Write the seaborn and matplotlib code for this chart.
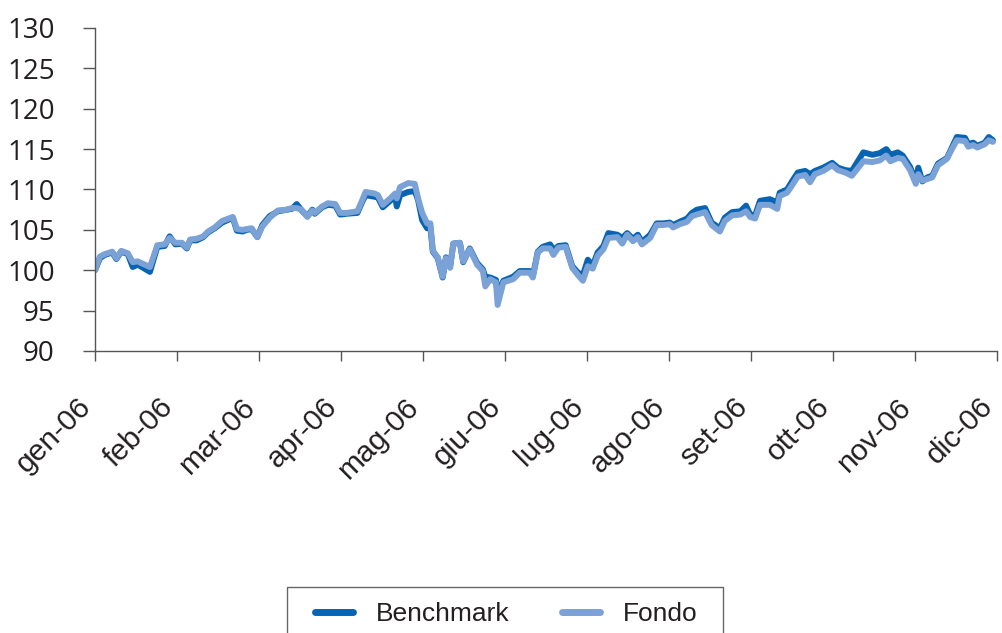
import numpy as np
import pandas as pd
import matplotlib
matplotlib.use("Agg")
import matplotlib.pyplot as plt
import matplotlib.transforms as mtransforms
from matplotlib.patches import Rectangle
import seaborn as sns

# mesi sull'asse x (posizione frazionaria nel 2006, 0 = gen-06)
mese = [0.00, 0.06, 0.12, 0.21, 0.26, 0.32, 0.40, 0.46, 0.52, 0.67, 0.76, 0.85,
        0.91, 0.98, 1.06, 1.12, 1.16, 1.24, 1.32, 1.38, 1.46, 1.55, 1.68, 1.73,
        1.80, 1.85, 1.91, 1.98, 2.04, 2.13, 2.23, 2.34, 2.40, 2.46, 2.52, 2.59,
        2.65, 2.68, 2.77, 2.84, 2.93, 2.99, 3.07, 3.20, 3.26, 3.30, 3.41, 3.45,
        3.51, 3.60, 3.66, 3.68, 3.72, 3.82, 3.90, 3.94, 3.99, 4.05, 4.09, 4.12,
        4.18, 4.24, 4.28, 4.33, 4.37, 4.45, 4.49, 4.57, 4.66, 4.73, 4.76, 4.82,
        4.89, 4.91, 4.98, 5.10, 5.18, 5.30, 5.34, 5.40, 5.46, 5.55, 5.59, 5.65,
        5.74, 5.82, 5.89, 5.95, 6.01, 6.07, 6.13, 6.20, 6.26, 6.37, 6.43, 6.49,
        6.56, 6.62, 6.67, 6.77, 6.85, 6.93, 7.01, 7.05, 7.13, 7.22, 7.28, 7.34,
        7.44, 7.52, 7.62, 7.68, 7.77, 7.87, 7.94, 7.99, 8.05, 8.11, 8.23, 8.32,
        8.35, 8.44, 8.50, 8.57, 8.66, 8.72, 8.78, 8.88, 8.99, 9.06, 9.15, 9.23,
        9.37, 9.48, 9.57, 9.65, 9.70, 9.79, 9.85, 9.94, 10.01, 10.04, 10.09, 10.15,
        10.21, 10.28, 10.39, 10.45, 10.51, 10.61, 10.65, 10.71, 10.76, 10.85, 10.90, 10.95]

benchmark = [100.0, 101.5, 101.9, 102.2, 101.4, 102.3, 102.0, 100.4, 100.7, 99.8, 102.9, 103.0,
             104.2, 103.2, 103.3, 102.7, 103.7, 103.7, 104.1, 104.7, 105.2, 105.9, 106.5, 104.9,
             104.8, 105.0, 105.1, 104.1, 105.6, 106.7, 107.3, 107.5, 107.6, 108.2, 107.4, 106.7,
             107.5, 107.0, 107.8, 108.1, 108.0, 106.9, 107.0, 107.1, 108.5, 109.3, 109.1, 109.0,
             107.8, 108.6, 109.1, 107.9, 109.3, 109.7, 109.8, 108.7, 106.2, 105.2, 105.3, 102.3,
             101.5, 99.1, 101.6, 100.4, 103.3, 103.4, 101.0, 102.7, 100.9, 100.1, 99.2, 99.1,
             98.8, 97.1, 98.7, 99.2, 99.9, 99.9, 99.3, 102.3, 102.9, 103.2, 102.5, 103.0,
             103.1, 100.5, 99.7, 99.4, 101.3, 100.6, 102.2, 103.0, 104.6, 104.4, 104.0, 104.6,
             103.9, 104.4, 103.5, 104.4, 105.8, 105.8, 105.9, 105.6, 106.0, 106.4, 107.1, 107.5,
             107.7, 105.9, 105.2, 106.5, 107.2, 107.3, 108.0, 106.9, 106.8, 108.6, 108.8, 108.4,
             109.6, 110.0, 111.0, 112.1, 112.3, 111.9, 112.3, 112.7, 113.3, 112.7, 112.4, 112.3,
             114.6, 114.3, 114.5, 115.0, 114.3, 114.6, 114.2, 112.8, 111.0, 112.7, 111.0, 111.5,
             111.7, 113.2, 113.9, 115.2, 116.5, 116.4, 115.6, 115.8, 115.4, 115.8, 116.5, 116.1]

fondo = [100.0, 101.7, 102.0, 102.3, 101.5, 102.4, 102.1, 101.0, 101.1, 100.4, 103.1, 103.2,
         104.0, 103.4, 103.4, 102.8, 103.8, 103.9, 104.2, 104.8, 105.3, 106.1, 106.6, 105.1,
         105.0, 105.1, 105.2, 104.1, 105.4, 106.5, 107.4, 107.5, 107.7, 107.7, 107.5, 106.6,
         107.4, 107.1, 107.9, 108.3, 108.2, 107.1, 107.1, 107.3, 108.7, 109.7, 109.5, 109.3,
         108.1, 108.9, 109.5, 108.9, 110.3, 110.8, 110.7, 108.9, 107.1, 105.8, 105.8, 102.4,
         101.6, 99.2, 101.5, 100.3, 103.3, 103.4, 101.1, 102.6, 100.7, 99.9, 98.0, 98.9,
         98.5, 95.7, 98.5, 98.9, 99.7, 99.7, 99.1, 102.2, 102.7, 102.7, 101.9, 102.8,
         102.9, 100.3, 99.4, 98.7, 100.5, 100.2, 101.8, 102.6, 104.0, 104.1, 103.3, 104.4,
         103.6, 104.1, 103.2, 104.0, 105.6, 105.6, 105.7, 105.3, 105.7, 106.0, 106.7, 106.9,
         107.2, 105.6, 104.8, 106.1, 106.8, 106.9, 107.3, 106.6, 106.4, 108.1, 108.1, 107.6,
         109.2, 109.6, 110.5, 111.6, 111.8, 110.9, 111.9, 112.3, 113.0, 112.4, 112.1, 111.7,
         113.5, 113.4, 113.6, 114.2, 113.5, 113.9, 113.8, 112.4, 110.7, 111.9, 111.1, 111.3,
         111.5, 113.0, 113.8, 115.0, 116.1, 116.0, 115.3, 115.5, 115.2, 115.6, 116.1, 115.9]

etichette_mesi = ['gen-06', 'feb-06', 'mar-06', 'apr-06', 'mag-06', 'giu-06',
                  'lug-06', 'ago-06', 'set-06', 'ott-06', 'nov-06', 'dic-06']
tick_y = [90, 95, 100, 105, 110, 115, 120, 125, 130]

sns.set_theme(style="white")
plt.rcParams['font.family'] = ['Liberation Sans', 'DejaVu Sans']

fig = plt.figure(figsize=(10.02, 6.33), dpi=100)
ax = fig.add_axes([95 / 1002, 1 - 351 / 633, 902 / 1002, 323 / 633])

col_bench = '#0764b2'
col_fondo = '#7ba2d6'

sns.lineplot(x=mese, y=benchmark, ax=ax, color=col_bench, linewidth=4.3, label='Benchmark')
sns.lineplot(x=mese, y=fondo, ax=ax, color=col_fondo, linewidth=4.3, label='Fondo')

ax.set_xlim(0, 11)
ax.set_ylim(90, 130)
ax.set_xticks(range(12))
ax.set_xticklabels(etichette_mesi, rotation=45, ha='right', va='center',
                   rotation_mode='anchor', fontsize=21.5, color='#231f20')
ax.set_yticks(tick_y)
ax.set_yticklabels([str(v) for v in tick_y], fontsize=20, color='#231f20',
                   family=['Open Sans', 'DejaVu Sans'])

for s in ['top', 'right']:
    ax.spines[s].set_visible(False)
for s in ['left', 'bottom']:
    ax.spines[s].set_color('#555555')
    ax.spines[s].set_linewidth(1.0)
ax.tick_params(axis='y', direction='out', length=9, width=1, color='#555555', pad=20, left=True)
ax.tick_params(axis='x', direction='out', length=7, width=1, color='#555555', pad=30, bottom=True)
ax.set_xlabel('')
ax.set_ylabel('')

# piccolo spostamento a sinistra, cosi' "dic-06" resta dentro la figura
sposta = mtransforms.ScaledTranslation(-8 / 100, 0, fig.dpi_scale_trans)
for lab in ax.get_xticklabels():
    lab.set_transform(lab.get_transform() + sposta)

# legenda in basso, con cornice rettangolare tagliata dal bordo
ax.get_legend().remove()
h, l = ax.get_legend_handles_labels()
leg = fig.legend(h, l, loc='center', bbox_to_anchor=(0.505, 1 - 614 / 633), ncol=2,
                 fontsize=19, frameon=False,
                 handlelength=1.45, handletextpad=0.85, columnspacing=2.0)
for line in leg.get_lines():
    line.set_linewidth(5)
for t in leg.get_texts():
    t.set_color('#231f20')
fig.patches.append(Rectangle((287 / 1002, -0.05), 436 / 1002, (633 - 587) / 633 + 0.05,
                             transform=fig.transFigure, fill=False,
                             edgecolor='#666666', linewidth=1.0))

fig.savefig('out.png', dpi=100)
